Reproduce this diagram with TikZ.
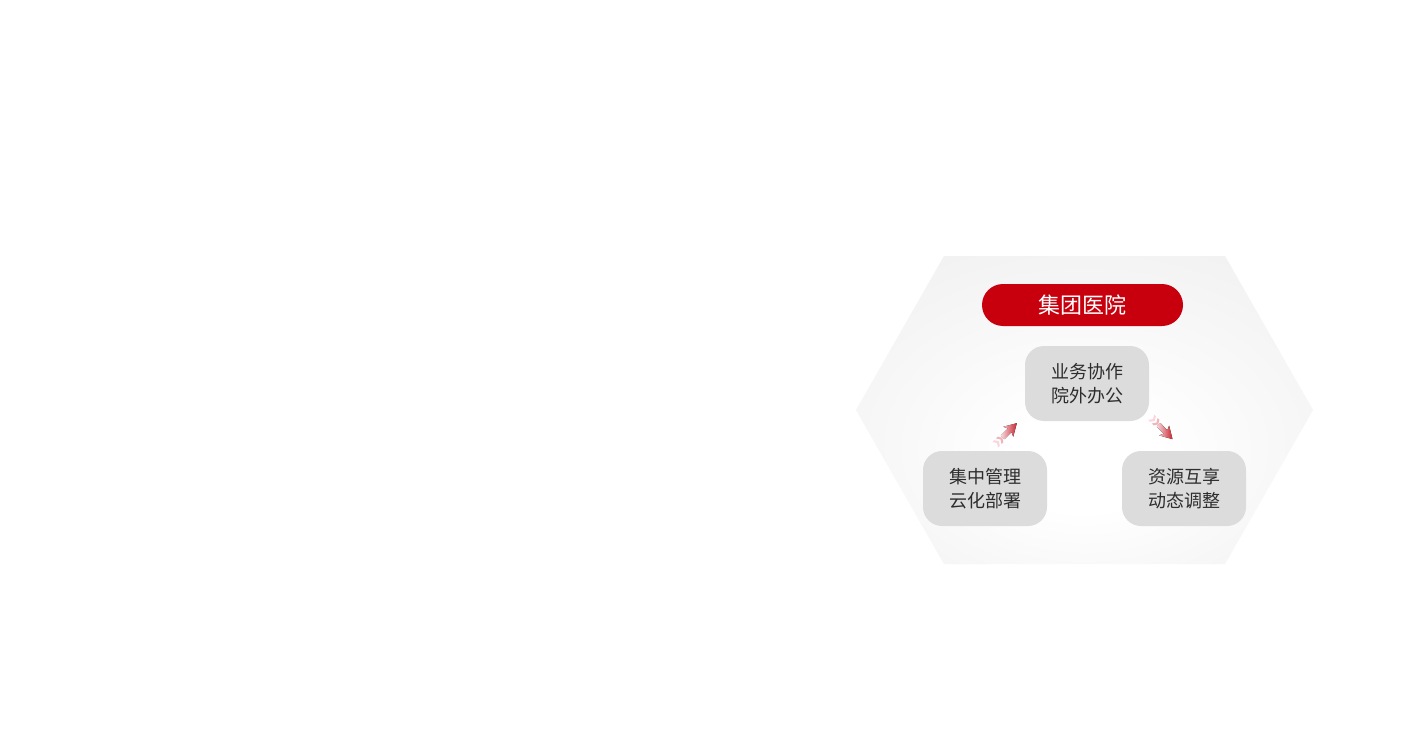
\documentclass[tikz,border=0pt]{standalone}
\usepackage{fontspec}
\setmainfont{Noto Sans CJK SC}
\definecolor{hospred}{RGB}{200,0,14}
\definecolor{boxgray}{RGB}{220,220,220}
\definecolor{hexgray}{RGB}{235,235,235}
\definecolor{hexmid}{RGB}{241,241,241}
\definecolor{txtgray}{RGB}{45,45,45}
\definecolor{arrred}{RGB}{200,40,50}
\definecolor{arrpink}{RGB}{250,215,220}
\pgfdeclareradialshading{hexrad}{\pgfpoint{0bp}{-10bp}}{color(0bp)=(white); color(8bp)=(white); color(34bp)=(hexmid); color(50bp)=(hexgray)}
\tikzset{
  pill/.style={fill=hospred, rounded corners=21pt, minimum width=201pt, minimum height=42pt,
    text=white, inner sep=0pt, font=\fontsize{22}{26}\selectfont},
  graybox/.style={fill=boxgray, rounded corners=19pt, minimum width=124pt, minimum height=75pt,
    inner sep=0pt, align=center, text=txtgray, font=\fontsize{18}{24}\selectfont},
  arrshade/.style={left color=arrpink, right color=arrred}
}
\newcommand{\fancyarrow}{%
  \fill[arrshade] (28,0) -- (16,-7) -- (18,-2.5) -- (8,-2.5) -- (8,2.5) -- (18,2.5) -- (16,7) -- cycle;
  \fill[arrpink!80!arrred] (2.5,-4) -- (5,-4) -- (7.5,0) -- (5,4) -- (2.5,4) -- (5,0) -- cycle;
  \fill[arrpink] (-2.5,-4) -- (0,-4) -- (2.5,0) -- (0,4) -- (-2.5,4) -- (0,0) -- cycle;
}
\begin{document}
\begin{tikzpicture}[x=1pt,y=-1pt]
\useasboundingbox (0,0) rectangle (1411,741);
\fill[white] (0,0) rectangle (1411,741);
\shade[shading=hexrad]
  (944,256) -- (1225,256) -- (1313,410) -- (1225,564) -- (944,564) -- (856,410) -- cycle;
\node[pill] (title) at (1082.5,305) {集团医院};
\node[graybox] (top) at (1087,383.5) {业务协作\\院外办公};
\node[graybox] (left) at (985,488.5) {集中管理\\云化部署};
\node[graybox] (right) at (1184,488.5) {资源互享\\动态调整};
\coordinate (a1) at (997,443);
\coordinate (a2) at (1153,419);
\begin{scope}[shift={(a1)}, rotate=45]
  \fancyarrow
\end{scope}
\begin{scope}[shift={(a2)}, rotate=-46]
  \fancyarrow
\end{scope}
\end{tikzpicture}
\end{document}
